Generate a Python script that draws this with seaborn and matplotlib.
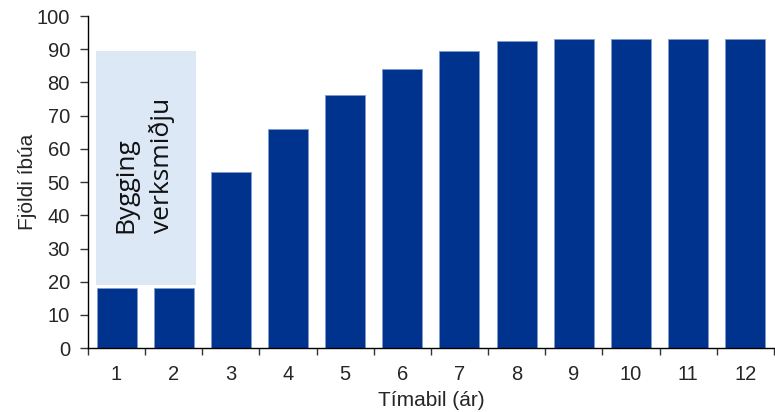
import matplotlib.pyplot as plt
import numpy as np
import pandas as pd
import seaborn as sns

# Data
periods = ["1", "2", "3", "4", "5", "6", "7", "8", "9", "10", "11", "12"]
residents = [18, 18, 53, 66, 76.2, 84, 89.5, 92.5, 93, 93, 93, 93]
construction_label = "Bygging\nverksmiðju"
construction_top = 89.5
construction_bottom = 19

df = pd.DataFrame({"period": periods, "residents": residents})

sns.set_style("white")
plt.rcParams["font.family"] = ["Liberation Sans", "DejaVu Sans"]

fig = plt.figure(figsize=(7.75, 4.12), dpi=100)
ax = fig.add_axes([0.1135, 0.155, 0.885, 0.806])

sns.barplot(data=df, x="period", y="residents", color="#00338D", saturation=1,
            width=0.7, edgecolor="#7f9acb", linewidth=0.6, ax=ax)

# shaded construction period box
ax.fill_between([-0.36, 1.39], construction_bottom, construction_top,
                color="#dce8f5", zorder=0.5, linewidth=0)
ax.text(0.48, 55, construction_label,
        rotation=90, ha="center", va="center", multialignment="left",
        fontsize=19, family=["Open Sans", "DejaVu Sans"], color="#111111",
        linespacing=1.5)

ax.set_xlim(-0.5, 11.5)
ax.set_ylim(0, 100)
ax.set_yticks(np.arange(0, 101, 10))
ax.set_xticks(np.arange(-0.5, 12, 1), minor=True)
ax.tick_params(axis="x", which="major", bottom=True, length=0, labelsize=14.5, pad=12)
ax.tick_params(axis="x", which="minor", bottom=True, length=5, width=1,
               direction="out", color="#333333")
ax.tick_params(axis="y", left=True, length=6, width=1, direction="out",
               labelsize=14.5, pad=7, color="#333333")

for s in ["top", "right"]:
    ax.spines[s].set_visible(False)
for s in ["left", "bottom"]:
    ax.spines[s].set_color("black")
    ax.spines[s].set_linewidth(1)

ax.set_xlabel("Tímabil (ár)", fontsize=15, labelpad=5)
ax.set_ylabel("Fjöldi íbúa", fontsize=15, labelpad=0)

fig.savefig("out.png", dpi=100)
